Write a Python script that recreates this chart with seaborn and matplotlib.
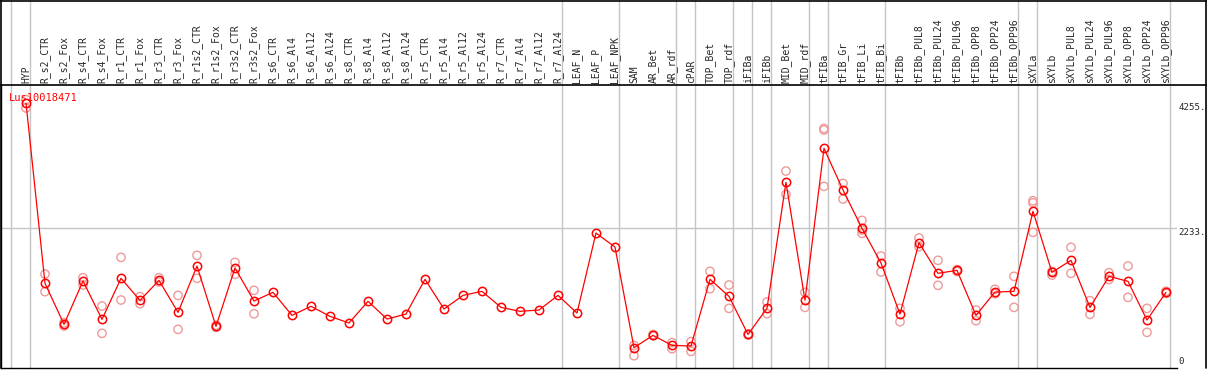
import matplotlib
matplotlib.use("Agg")
import matplotlib.pyplot as plt
from matplotlib.lines import Line2D
import numpy as np
import pandas as pd
import seaborn as sns

categories = [
    "HYP", "R_s2_CTR", "R_s2_Fox", "R_s4_CTR", "R_s4_Fox", "R_r1_CTR", "R_r1_Fox",
    "R_r3_CTR", "R_r3_Fox", "R_r1s2_CTR", "R_r1s2_Fox", "R_r3s2_CTR", "R_r3s2_Fox",
    "R_s6_CTR", "R_s6_Al4", "R_s6_Al12", "R_s6_Al24", "R_s8_CTR", "R_s8_Al4",
    "R_s8_Al12", "R_s8_Al24", "R_r5_CTR", "R_r5_Al4", "R_r5_Al12", "R_r5_Al24",
    "R_r7_CTR", "R_r7_Al4", "R_r7_Al12", "R_r7_Al24", "LEAF_N", "LEAF_P", "LEAF_NPK",
    "SAM", "AR_Bet", "AR_rdf", "cPAR", "TOP_Bet", "TOP_rdf", "iFIBa", "iFIBb",
    "MID_Bet", "MID_rdf", "tFIBa", "tFIB_Gr", "tFIB_Li", "tFIB_Bi", "tFIBb",
    "tFIBb_PUL8", "tFIBb_PUL24", "tFIBb_PUL96", "tFIBb_OPP8", "tFIBb_OPP24",
    "tFIBb_OPP96", "sXYLa", "sXYLb", "sXYLb_PUL8", "sXYLb_PUL24", "sXYLb_PUL96",
    "sXYLb_OPP8", "sXYLb_OPP24", "sXYLb_OPP96",
]

mean_values = [
    4255, 1338, 674, 1375, 755, 1419, 1063, 1386, 868, 1618, 642, 1586, 1052,
    1192, 820, 966, 804, 696, 1047, 760, 841, 1403, 922, 1143, 1208, 949, 885, 906,
    1143, 857, 2152, 1925,
    297, 496, 334, 324, 1403, 1127, 512, 933, 2972, 1063, 3522, 2848, 2228, 1667, 841,
    1995, 1500, 1548, 820, 1197, 1208, 2503, 1516, 1710, 949, 1451, 1370, 744, 1192,
]

N = None
rep_a = [
    4310, 1488, 700, 1429, 971, 1758, 1122, 1429, 1143, 1791, 660, 1678, 1225,
    N, N, N, N, N, N, N, N, N, N, N, N, N, N, N, N, N, N, N,
    334, 510, 378, 394, 1532, 1311, 520, 1036, 3155, 1192, 3845, 2955, 2357, 1780, 933,
    2071, 1710, 1560, 906, 1241, 1451, 2675, 1530, 1921, 1057, 1510, 1618, 933, 1210,
]
rep_b = [
    4175, 1203, 647, 1311, 529, 1068, 1008, 1360, 593, 1419, 625, 1483, 846,
    N, N, N, N, N, N, N, N, N, N, N, N, N, N, N, N, N, N, N,
    167, 490, 280, 237, 1251, 933, 500, 846, 2778, 949, 2907, 2702, 2147, 1521, 717,
    1930, 1306, 1530, 733, 1170, 949, 2163, 1472, 1500, 836, 1400, 1111, 545, 1175,
]
rep_c = [N] * 42 + [3818, N, 2200] + [N] * 8 + [2640] + [N] * 7

group_ends = [-1, 0, 28, 31, 34, 35, 37, 38, 39, 41, 42, 45, 52, 53, 60]
ytick_values = [0, 2233, 4255]
ytick_labels = ["0", "2233.", "4255."]
title_text = "Lus10018471"

# ---------------------------------------------------------------
sns.set_style("white")
plt.rcParams["font.family"] = ["DejaVu Sans Mono", "DejaVu Sans"]

W, H = 1209, 370
fig = plt.figure(figsize=(W / 100, H / 100), dpi=100)
ax = fig.add_axes([1 / W, 2 / H, 1176 / W, 283 / H])

xs = np.arange(len(categories))
mean_df = pd.DataFrame({"x": xs, "value": mean_values})
rep_rows = []
for reps in (rep_a, rep_b, rep_c):
    for i, v in enumerate(reps):
        if v is not None:
            rep_rows.append({"x": i, "value": v})
rep_df = pd.DataFrame(rep_rows)

grid_col = "#c4c4c4"
ax.axhline(2233, color=grid_col, lw=1, zorder=0)
top_frac = (368 - 0) / 283
for g in group_ends:
    ax.axvline(g + 0.2, ymin=0, ymax=top_frac, color=grid_col, lw=1,
               clip_on=False, zorder=0)

sns.scatterplot(data=rep_df, x="x", y="value", ax=ax, marker="o", s=36,
                facecolor="none", edgecolor="#ee9a9a", linewidth=1.0, zorder=2,
                legend=False)
sns.lineplot(data=mean_df, x="x", y="value", ax=ax, color="red", lw=0.9,
             marker="o", markersize=6.0, markerfacecolor="none",
             markeredgecolor="red", markeredgewidth=1.1, zorder=3, legend=False)

ax.set_xlim(-1.316, 60.58)
ax.set_ylim(-32, 4547)
ax.set_xlabel("")
ax.set_ylabel("")

ax.xaxis.tick_top()
ax.set_xticks(xs)
ax.set_xticklabels(categories, rotation=90, fontsize=7)
ax.tick_params(axis="x", length=0, pad=1.5, labelsize=7)

ax.yaxis.tick_right()
ax.set_yticks(ytick_values)
ax.set_yticklabels(ytick_labels)
ax.tick_params(axis="y", length=0, pad=0.8, labelsize=6.6)
for lab, val in zip(ax.get_yticklabels(), ytick_values):
    lab.set_va("bottom" if val == 0 else "top")

for side in ["top", "right"]:
    ax.spines[side].set_visible(False)
for side in ["left", "bottom"]:
    ax.spines[side].set_color("black")
    ax.spines[side].set_linewidth(1)

ax.text(8 / 1176, (368 - 93) / 283, title_text, transform=ax.transAxes,
        color="red", fontsize=7.5, va="top", ha="left")

# outer frame
def fig_line(x0, y0, x1, y1):
    fig.add_artist(Line2D([x0 / W, x1 / W], [1 - y0 / H, 1 - y1 / H],
                          color="black", lw=1.2))

fig_line(1, 0.5, 1206, 0.5)
fig_line(1, 85, 1206, 85)
fig_line(1206, 0, 1206, 368)
fig_line(1, 0, 1, 368)

fig.savefig("out.png", dpi=100, facecolor="white")
